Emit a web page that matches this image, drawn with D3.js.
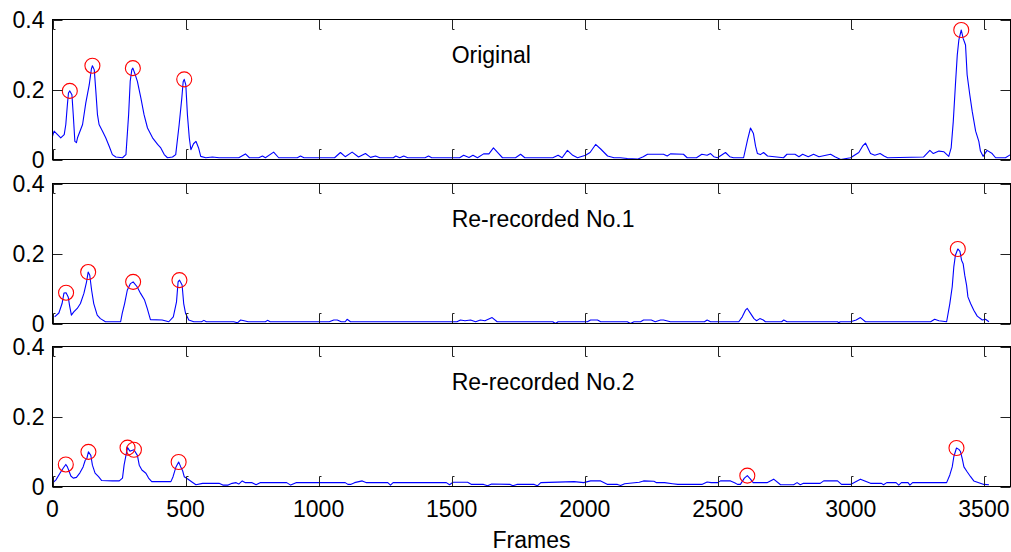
<!DOCTYPE html>
<html>
<head>
<meta charset="utf-8">
<script src="https://cdn.jsdelivr.net/npm/d3@7"></script>
<style>
  html, body { margin: 0; padding: 0; background: #fff; }
  svg { display: block; }
  text { font-family: "Liberation Sans", Arial, sans-serif; fill: #000; }
</style>
</head>
<body>
<svg id="chart" width="1011" height="552"></svg>
<script>
// Panel titles
const titles = ["Original", "Re-recorded No.1", "Re-recorded No.2"];

// Axis ticks
const xTicks = [0, 500, 1000, 1500, 2000, 2500, 3000, 3500];
const yTicks = [0, 0.2, 0.4];
const yTickLabels = ["0", "0.2", "0.4"];
const xLabel = "Frames";

// Per-frame similarity curves: [frame, value]
const seriesOriginal = [
  [0,0.066],[6,0.081],[19,0.071],[31,0.062],[44,0.071],[50,0.10],[56,0.157],[60,0.19],[65,0.196],[73,0.185],
  [78,0.128],[84,0.052],[90,0.048],[94,0.062],[113,0.10],[125,0.161],[138,0.213],[146,0.258],[150,0.268],[157,0.256],
  [163,0.194],[169,0.128],[175,0.10],[188,0.081],[200,0.062],[213,0.038],[225,0.014],[238,0.007],[263,0.005],[276,0.014],
  [286,0.128],[292,0.223],[298,0.256],[302,0.261],[311,0.242],[319,0.223],[332,0.176],[344,0.128],[357,0.09],[376,0.062],
  [395,0.043],[407,0.033],[420,0.014],[432,0.005],[451,0.007],[463,0.014],[476,0.10],[486,0.176],[491,0.222],[495,0.229],
  [501,0.213],[507,0.128],[514,0.062],[520,0.028],[530,0.045],[539,0.052],[549,0.033],[557,0.009],[576,0.005],[601,0.007],
  [626,0.005],[700,0.005],[725,0.016],[740,0.005],[775,0.005],[789,0.01],[800,0.005],[831,0.021],[850,0.005],[920,0.005],
  [932,0.01],[945,0.005],[1060,0.005],[1082,0.02],[1100,0.008],[1126,0.021],[1150,0.007],[1176,0.017],[1195,0.006],[1214,0.01],
  [1230,0.005],[1281,0.005],[1290,0.01],[1305,0.005],[1320,0.01],[1335,0.005],[1400,0.005],[1413,0.01],[1425,0.005],[1530,0.005],
  [1545,0.012],[1565,0.006],[1580,0.012],[1597,0.005],[1620,0.016],[1640,0.016],[1657,0.033],[1675,0.018],[1691,0.005],[1740,0.005],
  [1759,0.015],[1775,0.005],[1880,0.005],[1900,0.012],[1915,0.005],[1935,0.026],[1955,0.012],[1973,0.005],[2003,0.012],[2020,0.02],
  [2041,0.043],[2060,0.03],[2086,0.01],[2110,0.005],[2134,0.005],[2160,0.003],[2198,0.001],[2220,0.008],[2236,0.015],[2296,0.015],
  [2310,0.01],[2322,0.016],[2371,0.015],[2385,0.005],[2420,0.005],[2440,0.015],[2460,0.012],[2473,0.017],[2485,0.008],[2499,0.005],
  [2529,0.02],[2545,0.008],[2559,0.005],[2597,0.005],[2612,0.057],[2623,0.09],[2634,0.074],[2642,0.038],[2649,0.017],[2660,0.014],
  [2672,0.02],[2687,0.01],[2747,0.005],[2760,0.015],[2790,0.015],[2805,0.008],[2819,0.015],[2840,0.008],[2860,0.015],[2880,0.008],
  [2924,0.015],[2940,0.008],[2962,0.0],[2999,0.005],[3030,0.02],[3044,0.038],[3055,0.047],[3074,0.017],[3090,0.012],[3110,0.017],
  [3125,0.01],[3138,0.005],[3273,0.007],[3297,0.026],[3310,0.017],[3331,0.024],[3350,0.022],[3368,0.009],[3377,0.033],[3385,0.109],
  [3393,0.213],[3400,0.299],[3406,0.342],[3415,0.370],[3422,0.346],[3431,0.327],[3437,0.242],[3447,0.185],[3456,0.138],[3469,0.081],
  [3481,0.052],[3487,0.024],[3497,0.009],[3512,0.026],[3531,0.017],[3544,0.005],[3581,0.005],[3600,0.014]
];

const seriesRe1 = [
  [8,0.019],[24,0.030],[36,0.057],[43,0.087],[51,0.088],[59,0.076],[64,0.052],[71,0.024],[80,0.033],[93,0.043],
  [105,0.057],[118,0.086],[128,0.119],[134,0.147],[140,0.138],[147,0.095],[155,0.057],[168,0.024],[180,0.014],[199,0.005],
  [256,0.005],[262,0.029],[271,0.057],[281,0.095],[293,0.114],[303,0.119],[318,0.105],[331,0.086],[346,0.067],[356,0.043],
  [368,0.011],[412,0.010],[437,0.005],[454,0.019],[466,0.062],[472,0.119],[477,0.124],[487,0.110],[493,0.057],[500,0.029],
  [512,0.010],[531,0.005],[560,0.005],[569,0.009],[578,0.005],[681,0.005],[695,0.002],[707,0.010],[720,0.008],[735,0.005],
  [800,0.005],[808,0.009],[818,0.005],[1040,0.005],[1057,0.01],[1070,0.01],[1085,0.005],[1100,0.005],[1107,0.012],[1120,0.005],
  [1520,0.005],[1533,0.01],[1550,0.008],[1571,0.01],[1590,0.005],[1608,0.01],[1625,0.008],[1652,0.017],[1671,0.005],[1880,0.005],
  [1890,0.0],[1900,0.005],[2010,0.005],[2022,0.01],[2048,0.01],[2060,0.005],[2160,0.005],[2172,0.0],[2185,0.005],[2210,0.005],
  [2221,0.01],[2250,0.01],[2265,0.005],[2285,0.01],[2296,0.01],[2322,0.005],[2450,0.005],[2460,0.01],[2473,0.005],[2579,0.005],
  [2592,0.019],[2604,0.038],[2611,0.043],[2623,0.029],[2636,0.014],[2646,0.008],[2658,0.014],[2671,0.01],[2679,0.005],[2740,0.005],
  [2748,0.01],[2760,0.005],[2950,0.005],[2955,0.002],[2960,0.005],[2999,0.005],[3020,0.01],[3036,0.017],[3055,0.005],[3300,0.005],
  [3315,0.012],[3331,0.008],[3360,0.005],[3372,0.057],[3381,0.105],[3387,0.162],[3393,0.195],[3402,0.213],[3410,0.206],[3416,0.181],
  [3422,0.171],[3428,0.138],[3435,0.109],[3440,0.076],[3450,0.057],[3462,0.038],[3475,0.021],[3494,0.01],[3506,0.012],[3519,0.005]
];

const seriesRe2 = [
  [0,0.0095],[13,0.019],[28,0.038],[40,0.052],[50,0.063],[56,0.056],[63,0.042],[69,0.030],[78,0.024],[90,0.026],
  [103,0.039],[115,0.056],[123,0.075],[129,0.080],[135,0.099],[144,0.089],[150,0.061],[160,0.038],[173,0.028],[185,0.017],
  [225,0.016],[251,0.016],[263,0.024],[269,0.061],[276,0.089],[282,0.111],[291,0.101],[298,0.103],[306,0.105],[319,0.089],
  [326,0.061],[336,0.047],[351,0.038],[361,0.024],[373,0.014],[445,0.014],[453,0.028],[464,0.056],[474,0.070],[482,0.056],
  [489,0.045],[495,0.028],[507,0.022],[524,0.013],[539,0.005],[564,0.009],[626,0.009],[640,0.004],[660,0.004],[675,0.009],
  [690,0.011],[700,0.007],[713,0.016],[725,0.011],[750,0.011],[765,0.005],[780,0.011],[880,0.011],[895,0.004],[915,0.011],
  [1100,0.011],[1110,0.006],[1120,0.006],[1135,0.011],[1164,0.016],[1180,0.011],[1260,0.011],[1270,0.004],[1280,0.011],[1480,0.011],
  [1492,0.005],[1505,0.012],[1560,0.012],[1575,0.006],[1620,0.006],[1635,0.002],[1650,0.007],[1720,0.006],[1730,0.002],[1745,0.006],
  [1810,0.006],[1822,0.002],[1835,0.011],[1960,0.014],[1996,0.011],[2022,0.016],[2060,0.016],[2086,0.006],[2123,0.006],[2135,0.003],
  [2150,0.008],[2205,0.012],[2221,0.016],[2260,0.015],[2270,0.011],[2300,0.011],[2330,0.008],[2350,0.006],[2440,0.006],[2460,0.013],
  [2475,0.011],[2500,0.011],[2510,0.016],[2548,0.016],[2565,0.01],[2574,0.006],[2585,0.006],[2600,0.024],[2611,0.031],[2623,0.021],
  [2633,0.011],[2685,0.011],[2710,0.021],[2736,0.005],[2785,0.005],[2798,0.011],[2810,0.005],[2822,0.009],[2885,0.009],[2898,0.016],
  [2950,0.016],[2965,0.006],[2999,0.006],[3036,0.021],[3074,0.009],[3115,0.009],[3123,0.005],[3135,0.011],[3170,0.011],[3180,0.004],
  [3190,0.011],[3215,0.011],[3222,0.004],[3232,0.011],[3260,0.011],[3360,0.011],[3372,0.033],[3381,0.056],[3387,0.085],[3397,0.110],
  [3406,0.106],[3412,0.100],[3419,0.078],[3425,0.056],[3437,0.042],[3450,0.028],[3462,0.016],[3481,0.011],[3500,0.006],[3519,0.005]
];

// Detected peaks (circled)
const peaksOriginal = [[65,0.196],[150,0.268],[302,0.261],[495,0.229],[3415,0.370]];
const peaksRe1 = [[51,0.088],[134,0.147],[303,0.119],[477,0.124],[3402,0.213]];
const peaksRe2 = [[50,0.063],[135,0.099],[282,0.111],[306,0.105],[474,0.070],[2611,0.031],[3397,0.110]];

const panels = [
  { title: titles[0], series: seriesOriginal, peaks: peaksOriginal },
  { title: titles[1], series: seriesRe1, peaks: peaksRe1 },
  { title: titles[2], series: seriesRe2, peaks: peaksRe2 }
];

// Layout
const svg = d3.select("#chart");
const left = 52.5, right = 1010.5;
const panelTops = [19.5, 183.5, 346.5];
const panelH = 140;
const tickLen = 10;
const fontSize = 23;

const x = d3.scaleLinear().domain([0, 3600]).range([left, right]);

panels.forEach((p, i) => {
  const top = panelTops[i];
  const y = d3.scaleLinear().domain([0, 0.4]).range([top + panelH, top]);
  const g = svg.append("g");

  // data line
  const line = d3.line().x(d => x(d[0])).y(d => y(d[1]));
  g.append("path")
    .datum(p.series)
    .attr("d", line)
    .attr("fill", "none")
    .attr("stroke", "#0000ff")
    .attr("stroke-width", 1.1)
    .attr("stroke-linejoin", "round");

  // peak markers
  g.selectAll("circle.peak")
    .data(p.peaks)
    .enter().append("circle")
    .attr("class", "peak")
    .attr("cx", d => x(d[0]))
    .attr("cy", d => y(d[1]))
    .attr("r", 7.5)
    .attr("fill", "none")
    .attr("stroke", "#ff0000")
    .attr("stroke-width", 1.1);

  // x ticks (inward, top and bottom)
  const tickStroke = "#222";
  xTicks.forEach(t => {
    const xp = Math.round(x(t)) + 0.5;
    g.append("path")
      .attr("d", `M${xp},${top}V${top + tickLen}h2`)
      .attr("fill", "none").attr("stroke", tickStroke).attr("stroke-width", 1);
    g.append("path")
      .attr("d", `M${xp},${top + panelH}V${top + panelH - tickLen}h2`)
      .attr("fill", "none").attr("stroke", tickStroke).attr("stroke-width", 1);
  });

  // y ticks (inward, left and right) + labels
  yTicks.forEach((t, k) => {
    const yp = Math.round(y(t)) + 0.5;
    g.append("line")
      .attr("x1", left).attr("x2", left + tickLen)
      .attr("y1", yp).attr("y2", yp)
      .attr("stroke", tickStroke).attr("stroke-width", 1);
    g.append("line")
      .attr("x1", right).attr("x2", right - tickLen)
      .attr("y1", yp).attr("y2", yp)
      .attr("stroke", tickStroke).attr("stroke-width", 1);
    g.append("text")
      .attr("x", 44.5)
      .attr("y", y(t))
      .attr("dy", "0.36em")
      .attr("text-anchor", "end")
      .style("font-size", fontSize + "px")
      .text(yTickLabels[k]);
  });

  // axes box
  g.append("rect")
    .attr("x", left).attr("y", top)
    .attr("width", right - left).attr("height", panelH)
    .attr("fill", "none").attr("stroke", "#000").attr("stroke-width", 1);

  // panel title
  g.append("text")
    .attr("x", x(1500))
    .attr("y", top + 43.5)
    .style("font-size", fontSize + "px")
    .text(p.title);
});

// bottom x tick labels
svg.append("g").selectAll("text")
  .data(xTicks)
  .enter().append("text")
  .attr("x", d => x(d))
  .attr("y", 517)
  .attr("text-anchor", "middle")
  .style("font-size", fontSize + "px")
  .text(d => d);

svg.append("text")
  .attr("x", x(1800))
  .attr("y", 548)
  .attr("text-anchor", "middle")
  .style("font-size", fontSize + "px")
  .text(xLabel);
</script>
</body>
</html>
